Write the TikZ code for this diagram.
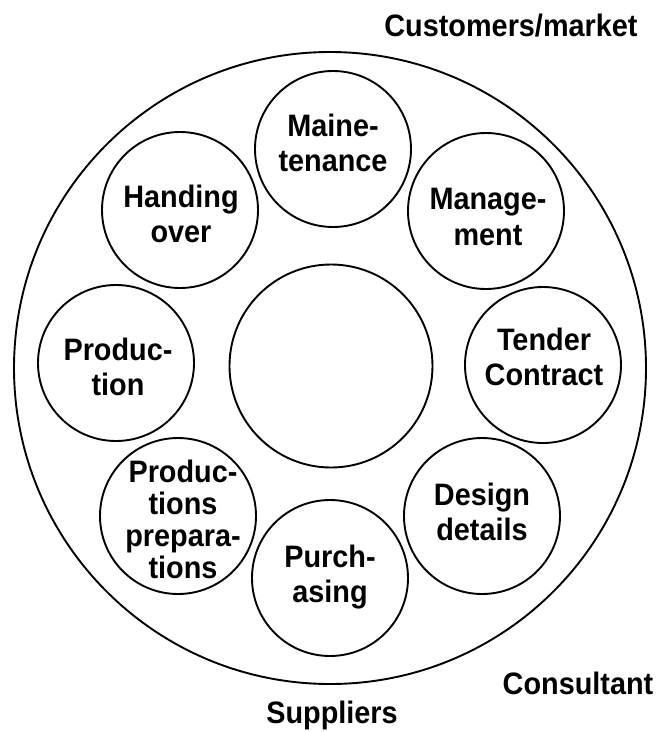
\documentclass[tikz,border=0pt]{standalone}
\usepackage{fontspec}
\setmainfont{Liberation Sans}[FakeStretch=0.93]
\begin{document}
\begin{tikzpicture}[x=1pt,y=-1pt,
  ring/.style={draw, circle, line width=1.9pt, inner sep=0pt, minimum size=156pt},
  hub/.style={draw, circle, line width=1.9pt, inner sep=0pt, minimum size=203pt},
  rim/.style={draw, circle, line width=1.9pt, inner sep=0pt, minimum size=632pt},
  lbl/.style={align=center, font=\fontsize{31}{35.5}\selectfont\bfseries, inner sep=0pt},
  lblq/.style={align=center, font=\fontsize{31}{32}\selectfont\bfseries, inner sep=0pt},
  outlbl/.style={font=\fontsize{31}{35}\selectfont\bfseries, inner sep=0pt, anchor=base}]
\useasboundingbox (0,0) rectangle (665,732);
% outer ring and hub
\node[rim] (outer) at (330,368) {};
\node[hub] (centre) at (331,366) {};
% satellite circles
\node[ring] (cmaint) at (333,149) {};
\node[ring] (chand) at (180,210) {};
\node[ring] (cmgmt) at (486,211) {};
\node[ring] (cprod) at (116,363) {};
\node[ring] (ctender) at (543,365) {};
\node[ring] (cprep) at (178,516) {};
\node[ring] (cdesign) at (482,516) {};
\node[ring] (cpurch) at (330,578) {};
% labels in circles
\node[lbl] (tmaint) at (333,143) {Maine-\\tenance};
\node[lbl] (thand) at (181,214) {Handing\\over};
\node[lbl] (tmgmt) at (488,217) {Manage-\\ment};
\node[lbl] (tprod) at (118,367) {Produc-\\tion};
\node[lbl] (ttender) at (544,357) {Tender\\Contract};
\node[lblq] (tprep) at (183,519) {Produc-\\tions\\prepara-\\tions};
\node[lbl] (tdesign) at (482,512) {Design\\details};
\node[lbl] (tpurch) at (330,577) {Purch-\\asing};
% outer labels
\node[outlbl] (customers) at (511,36) {Customers/market};
\node[outlbl] (consultant) at (578,694) {Consultant};
\node[outlbl] (suppliers) at (332,723) {Suppliers};
\end{tikzpicture}
\end{document}
